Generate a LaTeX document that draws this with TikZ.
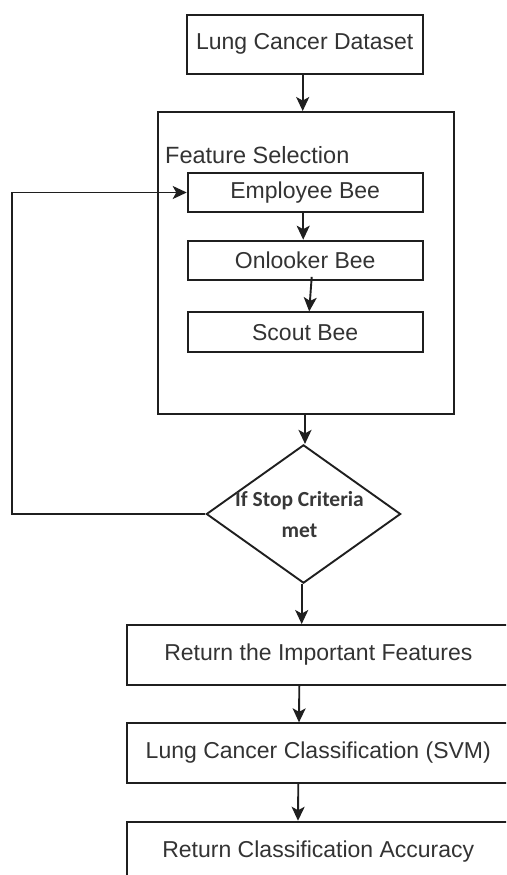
\documentclass[tikz,border=0pt]{standalone}
\usepackage{fontspec}
\setmainfont{Liberation Sans}
\newfontfamily\condfont{Carlito}
\usetikzlibrary{shapes.geometric,arrows.meta,calc}

\tikzset{
  flow/.style={draw=black!88, line width=1.9pt, fill=white, inner sep=0pt,
    text=black!80, font=\fontsize{23}{27}\selectfont},
  decide/.style={diamond, draw=black!88, line width=1.9pt, fill=white, inner sep=0pt},
  decidetext/.style={align=center, text=black!78,
    font=\condfont\bfseries\fontsize{21.5}{31}\selectfont},
  arr/.style={draw=black!88, line width=1.9pt,
    -{Stealth[length=14pt,width=13pt,inset=3.5pt]}},
  plain/.style={draw=black!88, line width=1.9pt}
}

\begin{document}
\begin{tikzpicture}[x=1pt,y=-1pt]
  \useasboundingbox (0,0) rectangle (506,875);
  \clip (0,0) rectangle (506,875);
  \fill[white] (0,0) rectangle (506,875);

  % input data
  \node[flow, minimum width=236pt, minimum height=59pt] (data) at (304.7,44.3) {Lung Cancer Dataset};

  % feature selection container
  \node[flow, minimum width=295.7pt, minimum height=302pt] (fs) at (306.2,263) {};
  \node[anchor=base west, text=black!80, font=\fontsize{23.5}{27}\selectfont, inner sep=0pt] (fslabel) at (165,163) {Feature Selection};

  % bee phases
  \node[flow, minimum width=235pt, minimum height=39.6pt] (emp) at (305.2,192.5) {Employee Bee};
  \node[flow, minimum width=235pt, minimum height=39.3pt] (onl) at (305.2,260.3) {Onlooker Bee};
  \node[flow, minimum width=235pt, minimum height=39.7pt] (sct) at (305.2,332.2) {Scout Bee};

  % stopping test
  \node[decide, minimum width=194.3pt, minimum height=138.3pt] (dec) at (303.5,514) {};
  \node[decidetext] (dectext) at (299.5,515) {If Stop Criteria\\met};

  % output stages
  \node[flow, minimum width=383.3pt, minimum height=60pt] (ret) at (318.3,655) {Return the Important Features};
  \node[flow, minimum width=383.3pt, minimum height=59.4pt] (svm) at (318.3,753) {Lung Cancer Classification (SVM)};
  \node[flow, minimum width=383.3pt, minimum height=60pt] (acc) at (318.3,851.7) {Return Classification Accuracy};

  % connectors
  \draw[arr] ([xshift=-2pt]data.south) -- ([xshift=-3.5pt]fs.north);
  \draw[arr] ([xshift=-2pt]emp.south) -- ([xshift=-2pt]onl.south |- onl.north);
  \draw[arr] ([xshift=6.5pt,yshift=4pt]onl.south) -- ([xshift=4pt]sct.north);
  \draw[arr] ([xshift=-1.2pt]fs.south) -- ([xshift=1.5pt]dec.north);
  \draw[arr] ([xshift=-1.8pt]dec.south) -- ([xshift=-16.6pt]ret.north);
  \draw[arr] ([xshift=-19pt]ret.south) -- ([xshift=-19.3pt]svm.north);
  \draw[arr] ([xshift=-20pt]svm.south) -- ([xshift=-20.3pt]acc.north);

  % loop back when the criteria are not met
  \coordinate (loopx) at (12.3,514);
  \draw[arr] (dec.west) -- (loopx) |- (emp.west);
\end{tikzpicture}
\end{document}
